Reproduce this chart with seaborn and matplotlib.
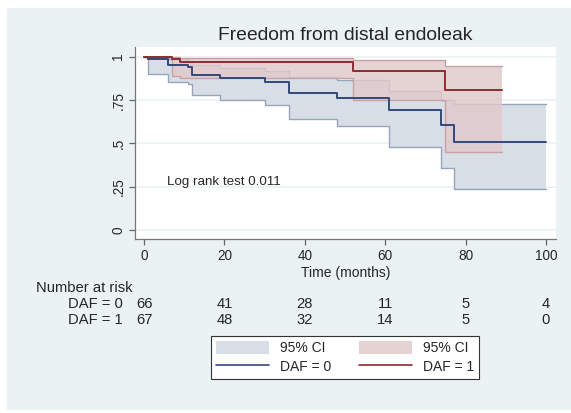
import numpy as np
import pandas as pd
import matplotlib
matplotlib.use("Agg")
import matplotlib.pyplot as plt
from matplotlib.patches import Rectangle, Patch
from matplotlib.lines import Line2D
import seaborn as sns

# Kaplan-Meier estimates
time_daf0 = [0, 1, 6, 11, 12, 19, 30, 36, 48, 61, 74, 77, 100]
surv_daf0 = [1, .985, .955, .94, .895, .875, .853, .79, .76, .69, .605, .505, .505]
upper_daf0 = [1, .998, .985, .977, .95, .935, .92, .88, .868, .80, .75, .725, .725]
lower_daf0 = [1, .90, .855, .84, .78, .75, .72, .64, .60, .48, .355, .235, .235]

time_daf1 = [0, 7, 9, 52, 75, 89]
surv_daf1 = [1, .985, .968, .92, .805, .805]
upper_daf1 = [1, .998, .993, .982, .946, .946]
lower_daf1 = [1, .89, .875, .75, .45, .45]

risk_times = [0, 20, 40, 60, 80, 100]
risk_daf0 = [66, 41, 28, 11, 5, 4]
risk_daf1 = [67, 48, 32, 14, 5, 0]

y_ticks = [0, .25, .5, .75, 1]
y_ticklabels = ["0", ".25", ".5", ".75", "1"]

NAVY = "#34487a"
MAROON = "#8e2c31"
NAVY_CI_FILL = "#d8dee6"
NAVY_CI_EDGE = "#97a4bd"
MAROON_CI_FILL = "#e0c9ca"
MAROON_CI_EDGE = "#c9a1a4"
BG = "#eaf2f3"

sns.set_theme(style="white")
plt.rcParams["font.family"] = ["Liberation Sans", "DejaVu Sans"]

df0 = pd.DataFrame({"time": time_daf0, "surv": surv_daf0,
                    "upper": upper_daf0, "lower": lower_daf0})
df1 = pd.DataFrame({"time": time_daf1, "surv": surv_daf1,
                    "upper": upper_daf1, "lower": lower_daf1})

fig = plt.figure(figsize=(5.71, 4.13), dpi=100, facecolor="white")
fig.patches.append(Rectangle((7 / 571, 1 - 410 / 413), 1, (410 - 8) / 413,
                             transform=fig.transFigure, facecolor=BG,
                             edgecolor="none", zorder=-10))
ax = fig.add_axes([135 / 571, 1 - 239 / 413, 421 / 571, 192 / 413])
ax.set_facecolor("white")

for yv in y_ticks:
    ax.axhline(yv, color=BG, lw=1.2, zorder=0)

# DAF = 0 band first, then DAF = 1 band on top of it
ax.fill_between(df0["time"], df0["lower"], df0["upper"], step="post",
                color=NAVY_CI_FILL, lw=0, zorder=1)
for c in ["upper", "lower"]:
    sns.lineplot(data=df0, x="time", y=c, drawstyle="steps-post", color=NAVY_CI_EDGE,
                 lw=1.0, errorbar=None, ax=ax, zorder=2)
ax.fill_between(df1["time"], df1["lower"], df1["upper"], step="post",
                color=MAROON_CI_FILL, alpha=0.82, lw=0, zorder=3)
for c in ["upper", "lower"]:
    sns.lineplot(data=df1, x="time", y=c, drawstyle="steps-post", color=MAROON_CI_EDGE,
                 lw=1.0, errorbar=None, ax=ax, zorder=4)

sns.lineplot(data=df0, x="time", y="surv", drawstyle="steps-post", color=NAVY,
             lw=1.4, errorbar=None, ax=ax, zorder=5)
sns.lineplot(data=df1, x="time", y="surv", drawstyle="steps-post", color=MAROON,
             lw=1.4, errorbar=None, ax=ax, zorder=5)

ax.set_xlim(-2.24, 102.5)
ax.set_ylim(-0.052, 1.056)
ax.set_xticks(risk_times)
ax.set_yticks(y_ticks)
ax.set_yticklabels(y_ticklabels, rotation=90, va="center")
ax.tick_params(axis="both", which="both", direction="out", length=4, width=0.9,
               color="#666666", labelsize=9.8, pad=3, left=True, bottom=True)
for s in ["top", "right"]:
    ax.spines[s].set_visible(False)
for s in ["left", "bottom"]:
    ax.spines[s].set_color("#777777")
    ax.spines[s].set_linewidth(0.9)
ax.set_xlabel("Time (months)", fontsize=10, labelpad=2)
ax.set_ylabel("")

ax.text(5.6, 0.279, "Log rank test 0.011", fontsize=9.6, va="center", ha="left")
fig.text(345.5 / 571, 1 - 35 / 413, "Freedom from distal endoleak",
         fontsize=13.9, ha="center", va="center")

# number at risk table
TABLE_FS = 10.6
fig.text(36 / 571, 1 - 288 / 413, "Number at risk", fontsize=TABLE_FS, va="center")
for label, counts, ypx in [("DAF = 0", risk_daf0, 304), ("DAF = 1", risk_daf1, 320)]:
    fig.text(123 / 571, 1 - ypx / 413, label, fontsize=TABLE_FS, ha="right", va="center")
    for t, n in zip(risk_times, counts):
        xf = ax.transData.transform((t, 0))[0] / fig.bbox.width
        fig.text(xf, 1 - ypx / 413, str(n), fontsize=TABLE_FS, ha="center", va="center")

handles = [Patch(facecolor=NAVY_CI_FILL, edgecolor="none"),
           Line2D([], [], color=NAVY, lw=1.2),
           Patch(facecolor=MAROON_CI_FILL, edgecolor="none", alpha=0.82),
           Line2D([], [], color=MAROON, lw=1.2)]
labels = ["95% CI", "DAF = 0", "95% CI", "DAF = 1"]
leg = fig.legend(handles, labels, ncol=2, loc="center",
                 bbox_to_anchor=(345 / 571, 1 - 357.5 / 413),
                 fontsize=10, frameon=True, fancybox=False, framealpha=1,
                 edgecolor="#333333", handlelength=3.8, handleheight=1.1,
                 columnspacing=2.0, labelspacing=0.3, borderpad=0.35,
                 handletextpad=0.8)
leg.get_frame().set_linewidth(0.8)

fig.savefig("out.png", dpi=100, facecolor=fig.get_facecolor())
plt.close(fig)
